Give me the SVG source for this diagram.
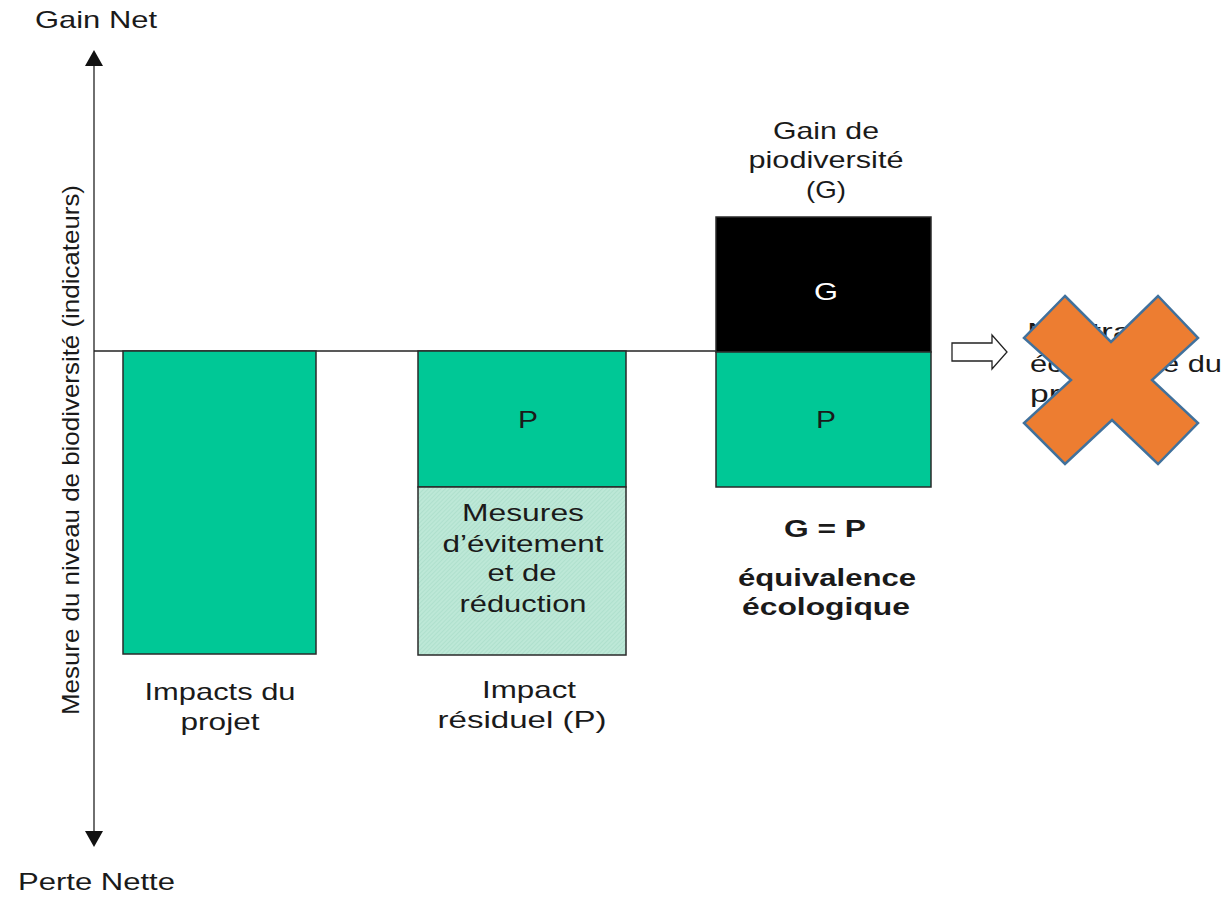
<svg xmlns="http://www.w3.org/2000/svg" width="1225" height="897" viewBox="0 0 1225 897">
<style>
  .t { font-family: "Liberation Sans", Arial, sans-serif; font-size: 24px; fill: #1a1a1a; }
  .c { text-anchor: middle; }
  .b { font-weight: bold; }
  .bar { stroke: #2a2a2a; stroke-width: 1.5; }
  .green { fill: #00C896; }
  .axis { stroke: #222; stroke-width: 1.3; fill: none; }
</style>
<defs>
  <pattern id="hatch" patternUnits="userSpaceOnUse" width="3" height="3" patternTransform="rotate(45)">
    <rect width="3" height="3" fill="#BDE8D7"/>
    <line x1="0" y1="0" x2="0" y2="3" stroke="#A6DCC7" stroke-width="1.2"/>
  </pattern>
</defs>
<rect width="1225" height="897" fill="#fff"/>

<g id="connectors">
  <line class="axis" x1="94" y1="62" x2="94" y2="834"/>
  <polygon points="94,50 85,66 103,66" fill="#111"/>
  <polygon points="94,847 85,831 103,831" fill="#111"/>
  <line class="axis" x1="94" y1="351" x2="716" y2="351"/>
  <polygon id="hollow-arrow" points="952,343 992,343 992,335 1007,352 992,369 992,361 952,361" fill="#fff" stroke="#222" stroke-width="1.3"/>
</g>

<g id="axis-labels">
  <text class="t" x="35" y="28" textLength="122" lengthAdjust="spacingAndGlyphs">Gain Net</text>
  <text class="t" x="18" y="890" textLength="157" lengthAdjust="spacingAndGlyphs">Perte Nette</text>
  <text class="t c" transform="translate(79,450) rotate(-90)" font-size="23" textLength="530" lengthAdjust="spacingAndGlyphs">Mesure du niveau de biodiversité (indicateurs)</text>
</g>

<g id="bar-impacts">
  <rect class="bar green" x="123" y="351" width="193" height="303"/>
  <text class="t c" x="220" y="700" textLength="151" lengthAdjust="spacingAndGlyphs">Impacts du</text>
  <text class="t c" x="220" y="730" textLength="79" lengthAdjust="spacingAndGlyphs">projet</text>
</g>

<g id="bar-residuel">
  <rect class="bar green" x="418" y="351" width="208" height="136"/>
  <rect class="bar" x="418" y="487" width="208" height="168" fill="url(#hatch)"/>
  <text class="t c" x="528" y="428" textLength="20" lengthAdjust="spacingAndGlyphs">P</text>
  <text class="t c" x="523" y="521" textLength="122" lengthAdjust="spacingAndGlyphs">Mesures</text>
  <text class="t c" x="523" y="552" textLength="161" lengthAdjust="spacingAndGlyphs">d’évitement</text>
  <text class="t c" x="522" y="581" textLength="69" lengthAdjust="spacingAndGlyphs">et de</text>
  <text class="t c" x="523" y="612" textLength="127" lengthAdjust="spacingAndGlyphs">réduction</text>
  <text class="t c" x="529" y="698" textLength="94" lengthAdjust="spacingAndGlyphs">Impact</text>
  <text class="t c" x="522" y="728" textLength="169" lengthAdjust="spacingAndGlyphs">résiduel (P)</text>
</g>

<g id="bar-gain">
  <text class="t c" x="826" y="139" textLength="106" lengthAdjust="spacingAndGlyphs">Gain de</text>
  <text class="t c" x="826" y="168" textLength="155" lengthAdjust="spacingAndGlyphs">piodiversité</text>
  <text class="t c" x="826" y="198" textLength="40" lengthAdjust="spacingAndGlyphs">(G)</text>
  <rect class="bar" x="716" y="217" width="215" height="135" fill="#000"/>
  <rect class="bar green" x="716" y="352" width="215" height="135"/>
  <text class="t c" x="826" y="300" style="fill:#fff" textLength="24" lengthAdjust="spacingAndGlyphs">G</text>
  <text class="t c" x="826" y="428" textLength="20" lengthAdjust="spacingAndGlyphs">P</text>
  <text class="t c b" x="825" y="537" textLength="82" lengthAdjust="spacingAndGlyphs">G = P</text>
  <text class="t c b" x="827" y="586" textLength="178" lengthAdjust="spacingAndGlyphs">équivalence</text>
  <text class="t c b" x="826" y="615" textLength="168" lengthAdjust="spacingAndGlyphs">écologique</text>
</g>

<g id="neutralite">
  <text class="t" x="1027" y="340" textLength="150" lengthAdjust="spacingAndGlyphs">Neutralité</text>
  <text class="t" x="1030" y="372" textLength="192" lengthAdjust="spacingAndGlyphs">écologique du</text>
  <text class="t" x="1030" y="402" textLength="84" lengthAdjust="spacingAndGlyphs">projet</text>
</g>

<g id="cross">
  <polygon points="1065,296 1111,342 1158,296 1198,338 1152,380 1198,423 1158,464 1112,420 1065,464 1024,423 1071,380 1024,338" fill="#ED7D31" stroke="#41719C" stroke-width="2.5" stroke-linejoin="miter"/>
</g>
</svg>
